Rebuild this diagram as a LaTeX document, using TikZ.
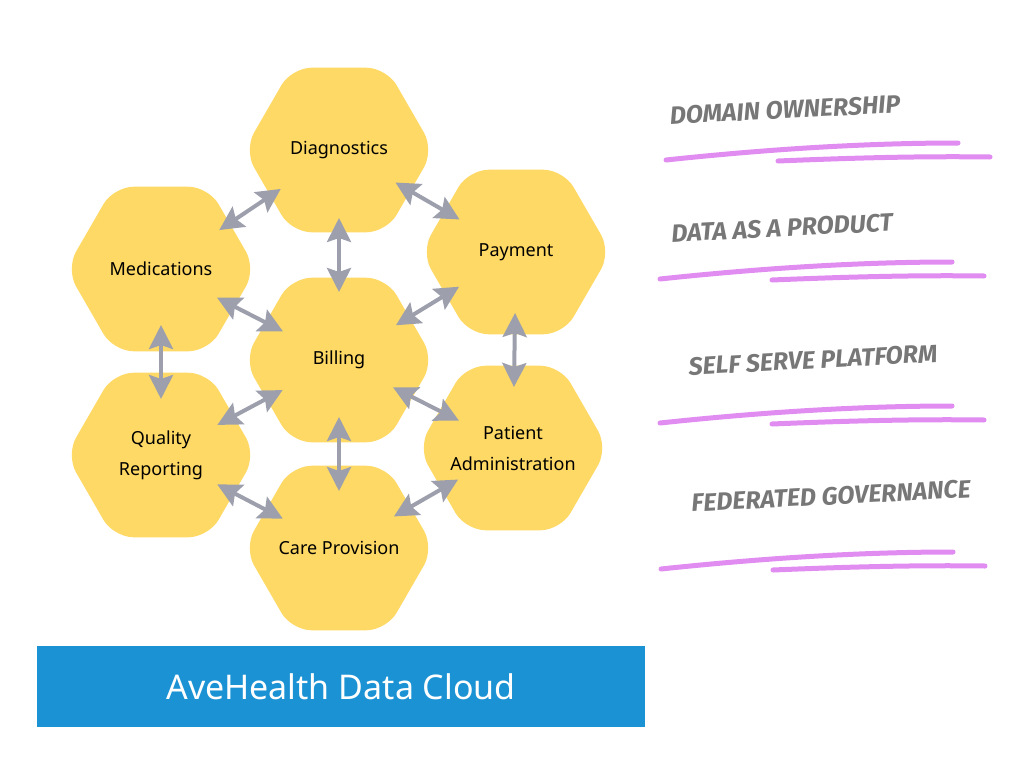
\documentclass[tikz,border=0pt]{standalone}
\usepackage{fontspec}
\setmainfont{Noto Sans}
\newfontfamily\handfont{Fira Sans}
\usetikzlibrary{shapes.geometric,arrows.meta,calc}
\definecolor{hexyellow}{HTML}{FED966}
\definecolor{linkgray}{HTML}{9DA0AC}
\definecolor{barblue}{HTML}{1A92D4}
\definecolor{brushpink}{HTML}{E08CF0}
\definecolor{taggray}{HTML}{777777}
\begin{document}
\begin{tikzpicture}[x=1pt,y=-1pt,
	hex/.style={regular polygon,regular polygon sides=6,minimum size=190pt,inner sep=-40pt,fill=hexyellow,rounded corners=20pt,align=center,font=\fontsize{18}{31}\selectfont},
	link/.style={linkgray,line width=4pt,{Stealth[length=24pt,width=24pt,inset=4pt]}-{Stealth[length=24pt,width=24pt,inset=4pt]}},
	brush/.style={brushpink,line width=5pt,line cap=round},
	tag/.style={taggray,font=\handfont\fontsize{25}{25}\selectfont\bfseries\itshape,rotate=3}]
	\useasboundingbox(0,0)rectangle(1024,768);
	\node[hex](diag)at(339,150){Diagnostics};
	\node[hex](medic)at(161,269){Medications};
	\node[hex](pay)at(516,252){Payment};
	\node[hex](bill)at(339,360){Billing};
	\node[hex](qual)at(161,455){Quality\\Reporting};
	\node[hex](patient)at(513,448){Patient\\Administration};
	\node[hex](care)at(339,548){Care Provision};
	\foreach \a/\b in {diag/medic,diag/pay,diag/bill,medic/bill,pay/bill,medic/qual,pay/patient,bill/qual,bill/patient,bill/care,qual/care,patient/care}
		\draw[link]($(\a)!.5!(\b)!37pt!(\a)$)--($(\a)!.5!(\b)!37pt!(\b)$);
	\node[fill=barblue,minimum width=608pt,minimum height=81pt,inner sep=0pt,text=white,font=\fontsize{34}{34}\selectfont](cloud)at(341,686.5){AveHealth Data Cloud};
	\node[tag](own)at(785,110){DOMAIN OWNERSHIP};
	\node[tag](prod)at(782,228){DATA AS A PRODUCT};
	\node[tag](self)at(813,360){SELF SERVE PLATFORM};
	\node[tag](fed)at(831,496){FEDERATED GOVERNANCE};
	\foreach \dx/\dy in {0/0,-6/119,-6/263,-5/409}
		\draw[brush,shift={(\dx,\dy)}](666,160)..controls(760,150)and(860,143)..(958,143)
			(778,161)..controls(850,158)and(920,156)..(990,157);
\end{tikzpicture}
\end{document}
